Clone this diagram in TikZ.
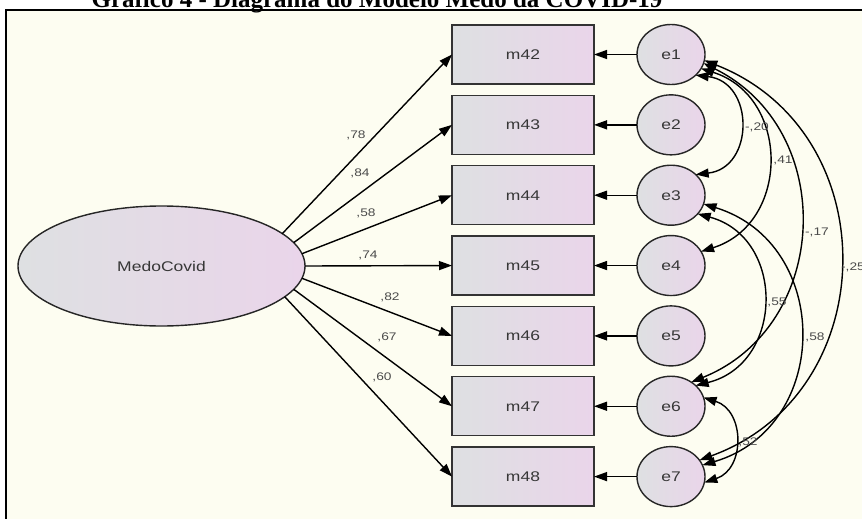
\documentclass[tikz,border=0pt]{standalone}
\usepackage{fontspec}
\setmainfont{Liberation Sans}
\newfontfamily\diagfont[FakeStretch=1.25]{Liberation Sans}
\newfontfamily\titlefont{Liberation Serif}
\usetikzlibrary{arrows.meta,shapes.geometric}
\definecolor{bgcream}{RGB}{253,253,241}
\definecolor{fillL}{RGB}{222,224,226}
\definecolor{fillR}{RGB}{234,213,234}
\definecolor{txtc}{RGB}{55,55,55}
\definecolor{lblc}{RGB}{75,75,75}
\begin{document}
\begin{tikzpicture}[x=1pt,y=1pt,
  obs/.style={draw=black!80, line width=1.4pt, minimum width=142pt, minimum height=59pt,
    left color=fillL, right color=fillR, font=\diagfont\fontsize{14}{16}\selectfont,
    text=txtc, inner sep=0pt, outer sep=0pt},
  err/.style={ellipse, draw=black!85, line width=1.4pt, minimum width=68pt, minimum height=60pt,
    left color=fillL, right color=fillR, font=\diagfont\fontsize{14}{16}\selectfont,
    text=txtc, inner sep=0pt, outer sep=0pt},
  lat/.style={ellipse, draw=black!85, line width=1.4pt, minimum width=287pt, minimum height=120pt,
    left color=fillL, right color=fillR, font=\diagfont\fontsize{14}{16}\selectfont,
    text=txtc, inner sep=0pt, outer sep=0pt},
  pth/.style={line width=1.4pt, -{Triangle[length=13pt,width=9pt]}},
  cov/.style={line width=1.4pt, {Triangle[length=13pt,width=9pt]}-{Triangle[length=13pt,width=9pt]}},
  lab/.style={font=\diagfont\fontsize{11}{12}\selectfont, text=lblc, inner sep=0pt}
]
\useasboundingbox (0,0) rectangle (862,-519);
\clip (0,0) rectangle (862,-519);
\fill[white] (0,0) rectangle (862,-519);
\draw[line width=2pt, fill=bgcream] (6,-10) rectangle (880,-540);
\node[font=\titlefont\bfseries\fontsize{25}{30}\selectfont, anchor=base, inner sep=0pt] (title) at (377,-8) {Gráfico 4 - Diagrama do Modelo Medo da COVID-19};

\node[lat] (mc) at (161.5,-266) {MedoCovid};

\node[obs] (m42) at (523,-54.5) {m42};
\node[obs] (m43) at (523,-124.85) {m43};
\node[obs] (m44) at (523,-195.2) {m44};
\node[obs] (m45) at (523,-265.55) {m45};
\node[obs] (m46) at (523,-335.9) {m46};
\node[obs] (m47) at (523,-406.25) {m47};
\node[obs] (m48) at (523,-476.6) {m48};

\node[err] (e1) at (671,-54.5) {e1};
\node[err] (e2) at (671,-124.85) {e2};
\node[err] (e3) at (671,-195.2) {e3};
\node[err] (e4) at (671,-265.55) {e4};
\node[err] (e5) at (671,-335.9) {e5};
\node[err] (e6) at (671,-406.25) {e6};
\node[err] (e7) at (671,-476.6) {e7};

\draw[pth] (mc.15) -- (m42.west);
\draw[pth] (mc.10.5) -- (m43.west);
\draw[pth] (mc.5.5) -- (m44.west);
\draw[pth] (mc.0) -- (m45.west);
\draw[pth] (mc.-5.5) -- (m46.west);
\draw[pth] (mc.-10) -- (m47.west);
\draw[pth] (mc.-14.5) -- (m48.west);

\node[lab] (l78) at (356,-135) {,78};
\node[lab] (l84) at (360,-173) {,84};
\node[lab] (l58a) at (366,-213) {,58};
\node[lab] (l74) at (368,-255) {,74};
\node[lab] (l82) at (390,-297) {,82};
\node[lab] (l67) at (387,-337) {,67};
\node[lab] (l60) at (382,-377) {,60};

\draw[pth] (e1.west) -- (m42.east);
\draw[pth] (e2.west) -- (m43.east);
\draw[pth] (e3.west) -- (m44.east);
\draw[pth] (e4.west) -- (m45.east);
\draw[pth] (e5.west) -- (m46.east);
\draw[pth] (e6.west) -- (m47.east);
\draw[pth] (e7.west) -- (m48.east);

\draw[cov] (e1.-40) to[out=-6.5,in=6.5,distance=59.4pt] (e3.40);
\draw[cov] (e1.-25) to[out=-17.5,in=17.5,distance=93.7pt] (e4.25);
\draw[cov] (e1.-15) to[out=-26.4,in=22,distance=150.5pt] (e6.50);
\draw[cov] (e1.-10) to[out=-21.4,in=20,distance=196.7pt] (e7.30);
\draw[cov] (e3.-35) to[out=-15.1,in=13.9,distance=91.4pt] (e6.40);
\draw[cov] (e3.-15) to[out=-17.1,in=16.5,distance=135pt] (e7.20);
\draw[cov] (e6.15) to[out=-17.3,in=18.3,distance=43.4pt] (e7.-10);

\node[lab] (c20) at (757,-127) {-,20};
\node[lab] (c41) at (783,-160) {,41};
\node[lab] (c17) at (817,-232) {-,17};
\node[lab] (c25) at (853,-267) {-,25};
\node[lab] (c55) at (777,-302) {,55};
\node[lab] (c58) at (815,-337) {,58};
\node[lab] (c52) at (748,-442) {,52};
\end{tikzpicture}
\end{document}
